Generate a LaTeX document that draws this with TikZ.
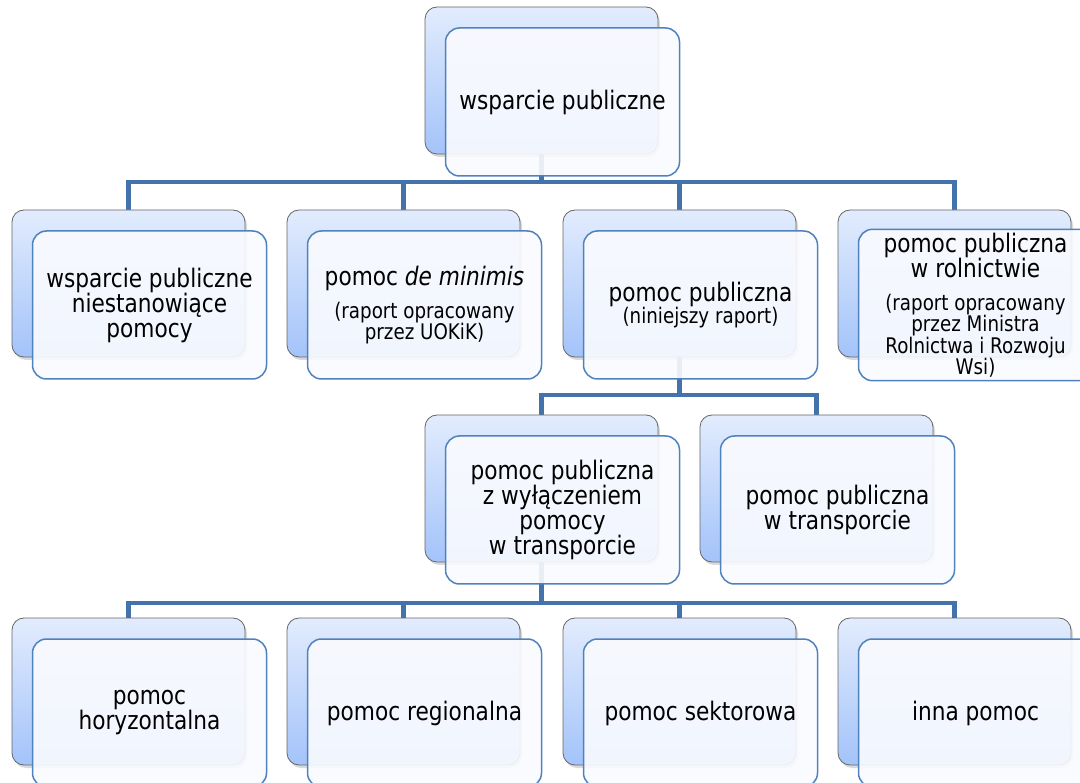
\documentclass[tikz,border=0pt]{standalone}
\usepackage{fontspec}
\setmainfont{DejaVu Sans}[FakeStretch=0.85]
\usetikzlibrary{
    positioning,
    calc,
    backgrounds,
    shadows
}
\definecolor{linkblue}{RGB}{68, 114, 170}
\definecolor{edgeblue}{RGB}{79, 129, 189}
\definecolor{backtop}{RGB}{226, 236, 253}
\definecolor{backbot}{RGB}{163, 195, 250}
\definecolor{frontfill}{RGB}{250, 251, 255}
\newcommand{\subtxt}{\fontsize{21.5}{21.5}\selectfont}

\begin{document}
\begin{tikzpicture}[
        x=1pt, y=-1pt,
        back/.style={rectangle, draw=black!60, line width=0.8pt, rounded corners=12pt,
            minimum width=233pt, minimum height=147pt, top color=backtop, bottom color=backbot,
            drop shadow={shadow xshift=2pt, shadow yshift=-3pt, opacity=0.3}},
        front/.style={rectangle, draw=edgeblue, line width=1.5pt, rounded corners=14pt,
            minimum width=234pt, minimum height=148pt, fill=frontfill, fill opacity=0.9,
            text opacity=1, align=center, font=\fontsize{25.5}{25}\selectfont},
        conn/.style={draw=linkblue, line width=4.5pt}
    ]
        \useasboundingbox (0,0) rectangle (1080,783);
        \clip (0,0) rectangle (1080,783);

        % Level 0
        \node[back] (topb) at (541.5,80.5) {};
        \node[front] (top) at (562.5,102) {wsparcie publiczne};

        % Level 1
        \node[back] (nieb) at (128.5,283.5) {};
        \node[front] (nie) at (149.5,305) {wsparcie publiczne\\niestanowiące\\pomocy};
        \node[back] (minb) at (403.5,283.5) {};
        \node[front] (min) at (424.5,305) {pomoc \textit{de minimis}\\[8pt]{\subtxt (raport opracowany}\\[-3.5pt]{\subtxt przez UOKiK)}};
        \node[back] (pubb) at (679.5,283.5) {};
        \node[front] (pub) at (700.5,305) {pomoc publiczna\\[-3pt]{\subtxt (niniejszy raport)}};
        \node[back] (rolb) at (954.5,283.5) {};
        \node[front] (rol) at (975.5,305) {pomoc publiczna\\w rolnictwie\\[8pt]{\subtxt (raport opracowany}\\[-3.5pt]{\subtxt przez Ministra}\\[-3.5pt]{\subtxt Rolnictwa i Rozwoju}\\[-3.5pt]{\subtxt Wsi)}};

        % Level 2
        \node[back] (excb) at (541.5,488.5) {};
        \node[front] (exc) at (562.5,510) {pomoc publiczna\\z wyłączeniem\\pomocy\\w transporcie};
        \node[back] (trab) at (816.5,488.5) {};
        \node[front] (tra) at (837.5,510) {pomoc publiczna\\w transporcie};

        % Level 3
        \node[back] (horb) at (128.5,691.5) {};
        \node[front] (hor) at (149.5,713) {pomoc\\horyzontalna};
        \node[back] (regb) at (403.5,691.5) {};
        \node[front] (reg) at (424.5,713) {pomoc regionalna};
        \node[back] (sekb) at (679.5,691.5) {};
        \node[front] (sek) at (700.5,713) {pomoc sektorowa};
        \node[back] (innb) at (954.5,691.5) {};
        \node[front] (inn) at (975.5,713) {inna pomoc};

        % Connectors (behind the boxes)
        \coordinate (bar1) at (0,182);
        \coordinate (bar2) at (0,395);
        \coordinate (bar3) at (0,603);
        \begin{scope}[on background layer]
            \draw[conn] (topb.center) -- (topb.center |- bar1) -| (nieb.center);
            \draw[conn] (topb.center |- bar1) -| (minb.center);
            \draw[conn] (topb.center |- bar1) -| (pubb.center);
            \draw[conn] (topb.center |- bar1) -| (rolb.center);

            \draw[conn] (pubb.center) -- (pubb.center |- bar2) -| (excb.center);
            \draw[conn] (pubb.center |- bar2) -| (trab.center);

            \draw[conn] (excb.center) -- (excb.center |- bar3) -| (horb.center);
            \draw[conn] (excb.center |- bar3) -| (regb.center);
            \draw[conn] (excb.center |- bar3) -| (sekb.center);
            \draw[conn] (excb.center |- bar3) -| (innb.center);
        \end{scope}
    \end{tikzpicture}
\end{document}
